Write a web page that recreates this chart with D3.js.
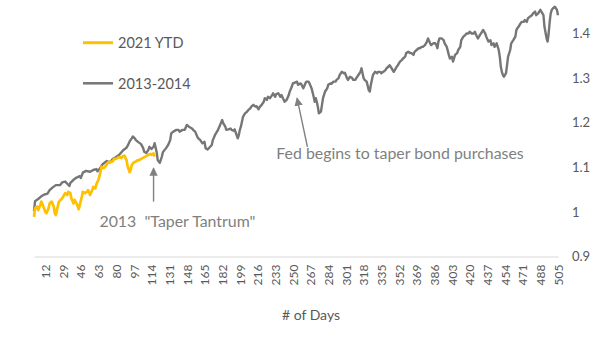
<!DOCTYPE html>
<html>
<head>
<meta charset="utf-8">
<script src="https://cdn.jsdelivr.net/npm/d3@7"></script>
<style>
  html, body { margin: 0; padding: 0; background: #ffffff; }
  svg { display: block; font-family: Lato, "Open Sans", sans-serif; }
</style>
</head>
<body>
<svg id="chart" width="614" height="341"></svg>
<script>
// ---- data ----
const xTickLabels = [12, 29, 46, 63, 80, 97, 114, 131, 148, 165, 182, 199, 216, 233, 250, 267, 284, 301, 318, 335, 352, 369, 386, 403, 420, 437, 454, 471, 488, 505];
const yTickLabels = [0.9, 1.0, 1.1, 1.2, 1.3, 1.4];
const seriesNames = ["2021 YTD", "2013-2014"];

const grayDays = [1,2,5,8,11,14,16,19,22,26,28,31,33,35,36,39,42,45,46,48,51,55,58,61,62,64,67,71,74,77,80,83,87,90,91,93,95,96,98,99,101,104,106,107,109,111,112,114,116,117,119,120,122,124,125,128,130,132,133,135,138,140,141,144,146,148,150,153,154,156,158,159,161,162,163,165,166,168,170,172,173,175,177,178,180,182,183,185,186,188,190,191,193,194,195,197,198,199,200,201,202,204,206,207,209,210,212,214,215,217,218,220,222,223,225,226,228,230,231,233,234,236,238,239,241,242,244,246,247,249,250,252,254,255,257,258,260,262,263,265,266,268,270,271,272,273,274,275,277,278,279,281,283,284,286,287,289,291,292,294,295,297,299,300,302,303,305,307,308,310,311,313,315,316,317,318,319,321,323,324,325,326,327,329,331,332,334,335,337,339,340,342,343,345,347,348,350,351,353,355,356,358,359,361,363,364,366,367,369,371,372,374,375,377,379,380,382,383,385,387,388,389,390,391,393,395,396,398,400,401,403,404,405,406,408,409,411,412,414,416,417,419,420,422,424,425,427,428,430,432,433,435,436,438,440,441,443,444,446,448,449,450,451,452,453,455,456,457,459,460,462,464,465,466,467,468,470,472,473,475,476,478,480,481,483,484,486,488,489,491,492,494,495,496,497,498,499,500,502,504,505];
const grayValues = [1.002,1.024,1.029,1.035,1.039,1.041,1.049,1.055,1.060,1.060,1.066,1.068,1.063,1.058,1.065,1.072,1.077,1.080,1.076,1.088,1.092,1.090,1.094,1.096,1.091,1.096,1.107,1.114,1.111,1.119,1.123,1.128,1.139,1.144,1.148,1.158,1.165,1.169,1.165,1.161,1.157,1.152,1.143,1.135,1.132,1.139,1.146,1.141,1.146,1.154,1.134,1.116,1.110,1.124,1.134,1.143,1.150,1.161,1.176,1.180,1.184,1.184,1.180,1.184,1.184,1.195,1.191,1.187,1.184,1.180,1.169,1.165,1.161,1.157,1.154,1.157,1.143,1.140,1.145,1.150,1.161,1.172,1.180,1.184,1.195,1.206,1.199,1.191,1.184,1.185,1.187,1.184,1.182,1.185,1.178,1.165,1.172,1.184,1.191,1.202,1.213,1.221,1.225,1.228,1.232,1.236,1.240,1.236,1.237,1.230,1.235,1.240,1.247,1.255,1.251,1.258,1.255,1.262,1.266,1.258,1.264,1.266,1.258,1.262,1.252,1.247,1.251,1.262,1.270,1.281,1.288,1.290,1.292,1.285,1.288,1.287,1.277,1.288,1.292,1.292,1.288,1.277,1.258,1.247,1.255,1.247,1.236,1.221,1.225,1.240,1.255,1.270,1.277,1.285,1.288,1.287,1.292,1.292,1.296,1.300,1.307,1.314,1.311,1.312,1.300,1.296,1.303,1.300,1.296,1.296,1.300,1.307,1.314,1.322,1.311,1.300,1.296,1.292,1.273,1.270,1.285,1.296,1.307,1.314,1.311,1.314,1.314,1.311,1.314,1.318,1.322,1.326,1.329,1.322,1.314,1.318,1.326,1.329,1.337,1.341,1.344,1.348,1.356,1.359,1.356,1.356,1.352,1.359,1.363,1.367,1.367,1.370,1.370,1.374,1.382,1.389,1.378,1.374,1.378,1.378,1.374,1.367,1.382,1.389,1.389,1.385,1.378,1.370,1.352,1.344,1.348,1.337,1.344,1.352,1.356,1.363,1.370,1.385,1.393,1.397,1.400,1.400,1.404,1.400,1.400,1.404,1.393,1.389,1.397,1.404,1.408,1.400,1.393,1.382,1.385,1.374,1.378,1.370,1.378,1.363,1.348,1.326,1.314,1.307,1.303,1.311,1.329,1.348,1.363,1.378,1.385,1.393,1.408,1.412,1.415,1.419,1.426,1.426,1.430,1.426,1.434,1.438,1.441,1.445,1.449,1.441,1.445,1.453,1.449,1.441,1.415,1.389,1.382,1.400,1.426,1.445,1.453,1.456,1.460,1.453,1.441];

const ytdDays = [1,2,4,5,7,8,10,12,13,15,16,18,20,21,22,23,25,28,29,31,33,34,36,37,39,40,42,44,45,47,48,50,52,53,55,57,58,60,61,63,64,66,68,70,72,73,75,77,78,80,82,83,85,86,88,90,91,93,94,95,97,99,100,102,105,108,111,113,114,116,117];
const ytdValues = [0.989,1.008,1.012,1.004,1.015,1.023,1.012,1.000,0.997,1.008,1.019,1.023,1.012,0.997,0.993,1.004,1.023,1.030,1.034,1.042,1.038,1.045,1.042,1.030,1.019,1.027,1.019,1.006,1.015,1.034,1.045,1.042,1.045,1.049,1.038,1.049,1.056,1.053,1.062,1.072,1.080,1.101,1.098,1.103,1.110,1.112,1.112,1.114,1.119,1.119,1.122,1.123,1.121,1.124,1.126,1.116,1.103,1.089,1.094,1.105,1.111,1.113,1.115,1.116,1.120,1.124,1.128,1.130,1.128,1.131,1.124];

const annotations = [
  { text: "Fed begins to taper bond purchases", textDay: 353, textValue: 1.118, fromDay: 264, fromValue: 1.146, toDay: 254, toValue: 1.255 },
  { text: "2013  \"Taper Tantrum\"", textDay: 139, textValue: 0.966, fromDay: 116, fromValue: 1.023, toDay: 116, toValue: 1.098 }
];

// ---- chart ----
const svg = d3.select("#chart");
const x = d3.scaleLinear().domain([1, 505]).range([34, 558]);
const y = d3.scaleLinear().domain([0.9, 1.4]).range([256.5, 33.5]);

// x axis
const xAxis = svg.append("g")
  .attr("transform", `translate(0,${y(0.9)})`)
  .call(d3.axisBottom(x).tickValues(xTickLabels).tickSize(0).tickSizeOuter(0).tickFormat(d3.format("d")));
xAxis.select(".domain").attr("stroke", "#d9d9d9").attr("stroke-width", 1.2);
xAxis.selectAll("text")
  .attr("transform", "rotate(-90)")
  .attr("x", -8).attr("y", 0).attr("dy", "0.35em")
  .style("text-anchor", "end")
  .attr("fill", "#595959")
  .style("font-size", "12px")
  .style("font-family", "Lato, sans-serif");

// y axis (right)
const yAxis = svg.append("g")
  .attr("transform", `translate(558,0)`)
  .call(d3.axisRight(y).tickValues(yTickLabels).tickSize(0).tickPadding(14).tickFormat(d => String(+d.toFixed(1))));
yAxis.select(".domain").remove();
yAxis.selectAll("text").attr("fill", "#595959").style("font-size", "13px").style("font-family", "Lato, sans-serif");

// lines
const line = d3.line().x(d => x(d[0])).y(d => y(d[1])).curve(d3.curveLinear);
svg.append("path")
  .datum(grayDays.map((d, i) => [d, grayValues[i]]))
  .attr("fill", "none").attr("stroke", "#767676").attr("stroke-width", 2.4)
  .attr("stroke-linejoin", "round").attr("d", line);
svg.append("path")
  .datum(ytdDays.map((d, i) => [d, ytdValues[i]]))
  .attr("fill", "none").attr("stroke", "#FFC000").attr("stroke-width", 2.7)
  .attr("stroke-linejoin", "round").attr("d", line);

// arrowhead
svg.append("defs").append("marker")
  .attr("id", "arrow").attr("viewBox", "0 0 10 10").attr("refX", 9).attr("refY", 5)
  .attr("markerWidth", 6).attr("markerHeight", 6).attr("orient", "auto-start-reverse")
  .append("path").attr("d", "M0,0 L10,5 L0,10 z").attr("fill", "#808080");

// annotations
annotations.forEach(a => {
  svg.append("line")
    .attr("x1", x(a.fromDay)).attr("y1", y(a.fromValue))
    .attr("x2", x(a.toDay)).attr("y2", y(a.toValue))
    .attr("stroke", "#808080").attr("stroke-width", 1.4)
    .attr("marker-end", "url(#arrow)");
  svg.append("text")
    .attr("x", x(a.textDay)).attr("y", y(a.textValue))
    .attr("text-anchor", "middle")
    .attr("fill", "#7f7f7f")
    .style("font-size", "15.9px")
    .style("white-space", "pre")
    .attr("xml:space", "preserve")
    .text(a.text);
});

// legend
const legendColors = ["#FFC000", "#767676"];
const legendRows = [42.7, 83.3];
seriesNames.forEach((name, i) => {
  svg.append("line")
    .attr("x1", 83).attr("x2", 113).attr("y1", legendRows[i]).attr("y2", legendRows[i])
    .attr("stroke", legendColors[i]).attr("stroke-width", i === 0 ? 3 : 2.5);
  svg.append("text")
    .attr("x", 118).attr("y", legendRows[i] + 5.3)
    .attr("fill", "#595959").style("font-size", "14.5px")
    .text(name);
});

// x axis title
svg.append("text")
  .attr("x", 311).attr("y", 320)
  .attr("text-anchor", "middle")
  .attr("fill", "#595959").style("font-size", "14px")
  .text("# of Days");
</script>
</body>
</html>
